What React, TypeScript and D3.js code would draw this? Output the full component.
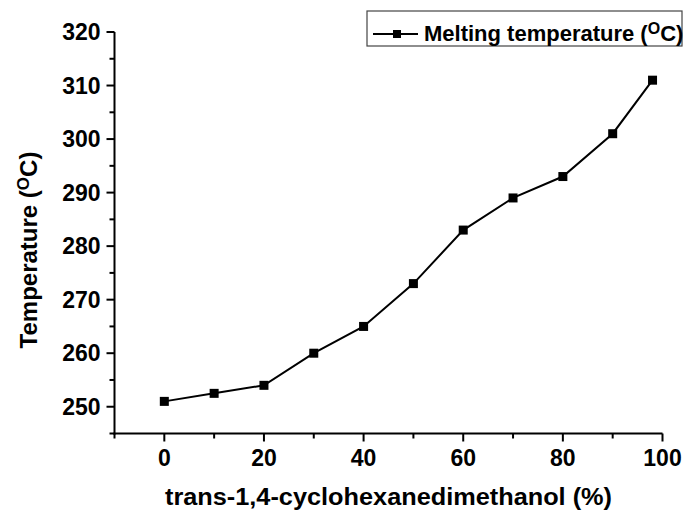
import React from "react";
import * as d3 from "d3";

// Melting temperature vs. trans-CHDM content
const contents = [0, 10, 20, 30, 40, 50, 60, 70, 80, 90, 98];
const meltingTemps = [251, 252.5, 254, 260, 265, 273, 283, 289, 293, 301, 311];
const xMajorTicks = [0, 20, 40, 60, 80, 100];
const xMinorTicks = [-10, 10, 30, 50, 70, 90];
const yMajorTicks = [250, 260, 270, 280, 290, 300, 310, 320];
const yMinorTicks = [245, 255, 265, 275, 285, 295, 305, 315];

const W = 683;
const H = 515;
const FONT = "Arial, 'Liberation Sans', sans-serif";

export default function App() {
  const x = d3.scaleLinear().domain([-10, 100]).range([114.5, 662.5]);
  const y = d3.scaleLinear().domain([245, 320]).range([433.5, 32]);

  const line = d3
    .line<number>()
    .x((_, i) => x(contents[i]))
    .y((d) => y(d))
    .curve(d3.curveLinear);

  const x0 = x.range()[0];
  const y0 = y.range()[0];
  const ms = 9;

  return (
    <svg
      width={W}
      height={H}
      style={{ position: "absolute", left: 0, top: 0, background: "#fff" }}
      fontFamily={FONT}
    >
      {/* axes */}
      <line x1={x0} x2={x0} y1={y.range()[1]} y2={y0 + 1} stroke="#000" strokeWidth={2} />
      <line x1={x0 - 1} x2={x.range()[1]} y1={y0} y2={y0} stroke="#000" strokeWidth={2} />

      {xMajorTicks.map((t) => (
        <g key={"xm" + t}>
          <line x1={x(t)} x2={x(t)} y1={y0} y2={y0 + 8} stroke="#000" strokeWidth={2} />
          <text x={x(t)} y={y0 + 32} textAnchor="middle" fontSize={23} fontWeight="bold">
            {t}
          </text>
        </g>
      ))}
      {xMinorTicks.map((t) => (
        <line key={"xn" + t} x1={x(t)} x2={x(t)} y1={y0} y2={y0 + 5} stroke="#000" strokeWidth={2} />
      ))}

      {yMajorTicks.map((t) => (
        <g key={"ym" + t}>
          <line x1={x0 - 8} x2={x0} y1={y(t)} y2={y(t)} stroke="#000" strokeWidth={2} />
          <text x={x0 - 14} y={y(t) + 8} textAnchor="end" fontSize={23} fontWeight="bold">
            {t}
          </text>
        </g>
      ))}
      {yMinorTicks.map((t) => (
        <line key={"yn" + t} x1={x0 - 5} x2={x0} y1={y(t)} y2={y(t)} stroke="#000" strokeWidth={2} />
      ))}

      {/* axis titles */}
      <text
        x={165}
        y={505}
        fontSize={23}
        fontWeight="bold"
        textLength={447}
        lengthAdjust="spacingAndGlyphs"
      >
        trans-1,4-cyclohexanedimethanol (%)
      </text>
      <text
        transform={`translate(37, ${(147 + 353) / 2}) rotate(-90)`}
        textAnchor="middle"
        fontSize={24}
        fontWeight="bold"
      >
        Temperature (<tspan fontSize={17} dy={-8}>O</tspan>
        <tspan dy={8}>C)</tspan>
      </text>

      {/* series */}
      <path d={line(meltingTemps) ?? ""} fill="none" stroke="#000" strokeWidth={2} />
      {meltingTemps.map((v, i) => (
        <rect
          key={i}
          x={x(contents[i]) - ms / 2}
          y={y(v) - ms / 2}
          width={ms}
          height={ms}
          fill="#000"
        />
      ))}

      {/* legend */}
      <rect x={367} y={11} width={315} height={35} fill="#fff" stroke="#444" strokeWidth={1.2} />
      <line x1={373} x2={418} y1={34} y2={34} stroke="#000" strokeWidth={2} />
      <rect x={397 - 4} y={34 - 4} width={8} height={8} fill="#000" />
      <text x={424} y={41} fontSize={22} fontWeight="bold" fill="#000">
        Melting temperature (<tspan fontSize={16} dy={-7}>O</tspan>
        <tspan dy={7}>C)</tspan>
      </text>
    </svg>
  );
}
